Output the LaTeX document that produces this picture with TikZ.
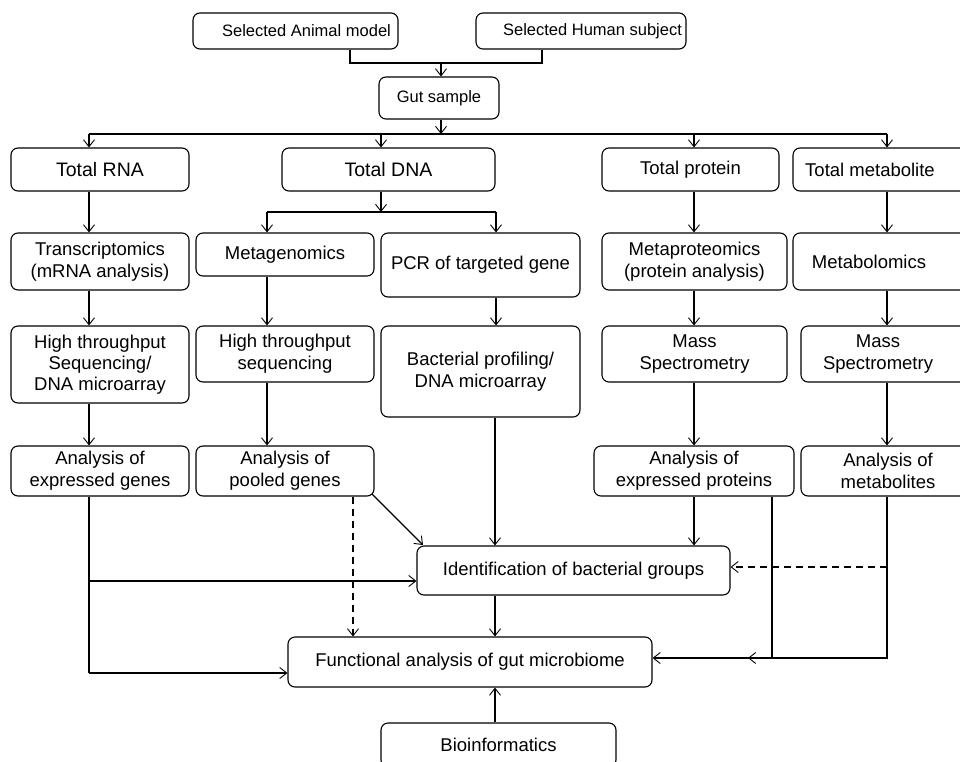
\documentclass[tikz,border=0pt]{standalone}
\usepackage{fontspec}
\setmainfont{Liberation Sans}
\usetikzlibrary{arrows.meta}
\begin{document}
\begin{tikzpicture}[x=1pt,y=-1pt,
  box/.style={draw, rounded corners=7pt, line width=1.1pt, inner sep=0pt, align=center,
    font=\fontsize{18.5}{22}\selectfont},
  small/.style={font=\fontsize{16.5}{20}\selectfont},
  big/.style={font=\fontsize{19.5}{23}\selectfont},
  conn/.style={line width=1.1pt},
  arr/.style={conn, -{Straight Barb[length=7pt,width=11pt,line width=0.9pt]}},
  darr/.style={arr, dash pattern=on 7pt off 5pt}]
\useasboundingbox (0,0) rectangle (960,762);
\clip (0,0) rectangle (960,762);
% top
\node[box, small, minimum width=205, minimum height=36] (animal) at (295.5,31) {\hspace*{22pt}Selected Animal model};
\node[box, small, minimum width=210, minimum height=36] (human) at (581,31) {\hspace*{23pt}Selected Human subject};
\node[box, small, minimum width=120, minimum height=42] (gut) at (439,98) {Gut sample};
% row 1
\node[box, big, minimum width=178, minimum height=43] (rna) at (100,169.5) {Total RNA};
\node[box, big, minimum width=213, minimum height=43] (dna) at (388.5,169.5) {Total DNA};
\node[box, minimum width=177, minimum height=43] (prot) at (690.5,169.5) {Total protein\vphantom{Tg}};
\node[box, minimum width=182, minimum height=43] (metab) at (884,169.5) {Total metabolite\hspace*{28pt}};
% row 2
\node[box, minimum width=178, minimum height=57] (trans) at (100,261.5) {Transcriptomics\\(mRNA analysis)};
\node[box, minimum width=178, minimum height=43] (metagen) at (285,254.5) {Metagenomics};
\node[box, minimum width=199, minimum height=64] (pcr) at (480.5,265) {PCR of targeted gene};
\node[box, minimum width=185, minimum height=57] (metaprot) at (694.5,261.5) {Metaproteomics\\(protein analysis)};
\node[box, minimum width=182, minimum height=57] (metabolomics) at (884,261.5) {Metabolomics\hspace*{30pt}};
% row 3
\node[box, minimum width=178, minimum height=77, font=\fontsize{18.5}{21}\selectfont] (hts1) at (100,364.5) {High throughput\\Sequencing/\\DNA microarray};
\node[box, minimum width=178, minimum height=56] (hts2) at (285,354) {High throughput\\sequencing};
\node[box, minimum width=199, minimum height=91] (bact) at (480.5,371.5) {Bacterial profiling/\\DNA microarray};
\node[box, minimum width=185, minimum height=56] (ms1) at (694.5,354) {Mass\\Spectrometry};
\node[box, minimum width=174, minimum height=56] (ms2) at (888,354) {Mass\hspace*{20pt}\\Spectrometry\hspace*{20pt}};
% row 4
\node[box, minimum width=178, minimum height=50] (aeg) at (100,471) {Analysis of\\expressed genes};
\node[box, minimum width=178, minimum height=50] (apg) at (285,471) {Analysis of\\pooled genes};
\node[box, minimum width=200, minimum height=50] (aep) at (694,471) {Analysis of\\expressed proteins};
\node[box, minimum width=174, minimum height=50] (am) at (888,471) {Analysis of\\metabolites};
% bottom
\node[box, minimum width=313, minimum height=49] (ident) at (573.5,570.5) {Identification of bacterial groups};
\node[box, minimum width=364, minimum height=50] (func) at (470,662) {Functional analysis of gut microbiome};
\node[box, minimum width=235, minimum height=44] (bio) at (498.5,745) {Bioinformatics};
% coordinates
\coordinate (m1) at (350,63);
\coordinate (m2) at (542,63);
\coordinate (m) at (441,63);
\coordinate (sL) at (89,134);
\coordinate (sR) at (887,134);
\coordinate (s) at (441,134);
\coordinate (xdna) at (381,134);
\coordinate (xprot) at (694,134);
\coordinate (d) at (381,212);
\coordinate (dL) at (267,212);
\coordinate (dR) at (496,212);
\coordinate (xc) at (495,0);
\coordinate (j1) at (89,581);
\coordinate (j2) at (89,673);
\coordinate (xdash) at (353,0);
\coordinate (p1) at (772,658);
\coordinate (p2) at (748,658);
\coordinate (q1) at (887,658);
\coordinate (q2) at (887,567);
\coordinate (a1) at (372,494);
\coordinate (a2) at (423,545);
% top connectors
\draw[conn] (animal.south -| m1) -- (m1) -- (m2) -- (human.south -| m2);
\draw[arr] (m) -- (gut.north -| m);
\draw[arr] (gut.south -| s) -- (s);
\draw[conn] (sL) -- (sR);
\draw[arr] (sL) -- (rna.north -| sL);
\draw[arr] (xdna) -- (dna.north -| xdna);
\draw[arr] (xprot) -- (prot.north -| xprot);
\draw[arr] (sR) -- (metab.north -| sR);
% DNA split
\draw[arr] (dna.south -| d) -- (d);
\draw[conn] (dL) -- (dR);
\draw[arr] (dL) -- (metagen.north -| dL);
\draw[arr] (dR) -- (pcr.north -| dR);
% RNA column
\draw[arr] (rna.south -| sL) -- (trans.north -| sL);
\draw[arr] (trans.south -| sL) -- (hts1.north -| sL);
\draw[arr] (hts1.south -| sL) -- (aeg.north -| sL);
% metagenomics column
\draw[arr] (metagen.south -| dL) -- (hts2.north -| dL);
\draw[arr] (hts2.south -| dL) -- (apg.north -| dL);
% PCR column
\draw[arr] (pcr.south -| dR) -- (bact.north -| dR);
\draw[arr] (bact.south -| xc) -- (ident.north -| xc);
\draw[arr] (ident.south -| xc) -- (func.north -| xc);
\draw[arr] (bio.north -| xc) -- (func.south -| xc);
% protein column
\draw[arr] (prot.south -| xprot) -- (metaprot.north -| xprot);
\draw[arr] (metaprot.south -| xprot) -- (ms1.north -| xprot);
\draw[arr] (ms1.south -| xprot) -- (aep.north -| xprot);
\draw[arr] (aep.south -| xprot) -- (ident.north -| xprot);
% metabolite column
\draw[arr] (metab.south -| sR) -- (metabolomics.north -| sR);
\draw[arr] (metabolomics.south -| sR) -- (ms2.north -| sR);
\draw[arr] (ms2.south -| sR) -- (am.north -| sR);
% lower connectors
\draw[conn] (aeg.south -| j1) -- (j2);
\draw[arr] (j1) -- (ident.west |- j1);
\draw[arr] (j2) -- (func.west |- j2);
\draw[arr] (a1) -- (a2);
\draw[darr] (apg.south -| xdash) -- (func.north -| xdash);
\draw[arr] (aep.south -| p1) -- (p1) -- (p2);
\draw[arr] (am.south -| q1) -- (q1) -- (func.east |- q1);
\draw[darr] (q2) -- (ident.east |- q2);
\end{tikzpicture}
\end{document}
